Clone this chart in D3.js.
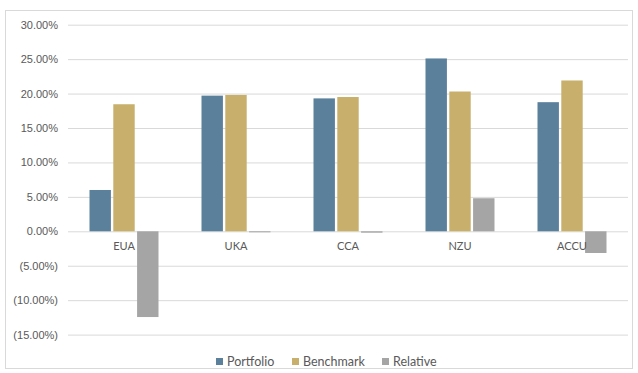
<!DOCTYPE html>
<html>
<head>
<meta charset="utf-8">
<script src="https://cdn.jsdelivr.net/npm/d3@7/dist/d3.min.js"></script>
<style>
  html, body { margin: 0; padding: 0; background: #fff; }
  svg { display: block; font-family: Lato, "Open Sans", sans-serif; }
</style>
</head>
<body>
<svg id="chart" width="638" height="373"></svg>
<script>
// Carbon market returns by allowance type
const categories = ["EUA", "UKA", "CCA", "NZU", "ACCU"];
const seriesNames = ["Portfolio", "Benchmark", "Relative"];
const portfolio = [6.0, 19.7, 19.3, 25.1, 18.75];
const benchmark = [18.45, 19.8, 19.5, 20.3, 21.9];
const relative = [-12.45, -0.1, -0.2, 4.8, -3.15];
const yTicks = [-15, -10, -5, 0, 5, 10, 15, 20, 25, 30];
const colors = ["#5b809c", "#c8b06c", "#a5a5a5"];

const values = [portfolio, benchmark, relative];
const svg = d3.select("#chart");

// outer frame
svg.append("rect")
  .attr("x", 5.5).attr("y", 10.5)
  .attr("width", 627).attr("height", 358)
  .attr("fill", "#fff").attr("stroke", "#d9d9d9");

const plot = { left: 68, right: 628, top: 24.7, bottom: 334.6 };

const y = d3.scaleLinear().domain([-15, 30]).range([plot.bottom, plot.top]);
const x = d3.scaleBand().domain(categories).range([plot.left, plot.right]);
const xs = d3.scaleBand().domain(seriesNames).range([0, 69]).paddingInner(0.1);

const fmt = v => v < 0 ? "(" + Math.abs(v).toFixed(2) + "%)" : v.toFixed(2) + "%";

// gridlines and tick labels
const yAxis = svg.append("g")
  .attr("transform", `translate(${plot.left},0)`)
  .call(d3.axisLeft(y).tickValues(yTicks).tickFormat(fmt)
    .tickSize(-(plot.right - plot.left)).tickPadding(10));
yAxis.select(".domain").remove();
yAxis.selectAll(".tick line").attr("stroke", "#d9d9d9").attr("stroke-width", 1);
yAxis.selectAll(".tick text").attr("fill", "#595959").style("font-size", "11px");

// bars
const groupOffset = (x.bandwidth() - 69) / 2;
categories.forEach((c, i) => {
  const g = svg.append("g").attr("transform", `translate(${x(c) + groupOffset},0)`);
  seriesNames.forEach((s, j) => {
    const v = values[j][i];
    g.append("rect")
      .attr("x", xs(s))
      .attr("y", y(Math.max(0, v)))
      .attr("width", xs.bandwidth())
      .attr("height", Math.max(1, Math.abs(y(v) - y(0))))
      .attr("fill", colors[j]);
  });
});

// category labels just below the zero line
svg.append("g").selectAll("text")
  .data(categories)
  .join("text")
  .attr("x", d => x(d) + x.bandwidth() / 2)
  .attr("y", y(0) + 19)
  .attr("text-anchor", "middle")
  .attr("fill", "#595959")
  .style("font-size", "11px")
  .text(d => d);

// legend
const legendX = [216, 292, 382];
const legend = svg.append("g");
seriesNames.forEach((s, j) => {
  legend.append("rect")
    .attr("x", legendX[j]).attr("y", 358)
    .attr("width", 7).attr("height", 7)
    .attr("fill", colors[j]);
  legend.append("text")
    .attr("x", legendX[j] + 11).attr("y", 366)
    .attr("fill", "#595959")
    .style("font-size", "12.5px")
    .text(s);
});
</script>
</body>
</html>
